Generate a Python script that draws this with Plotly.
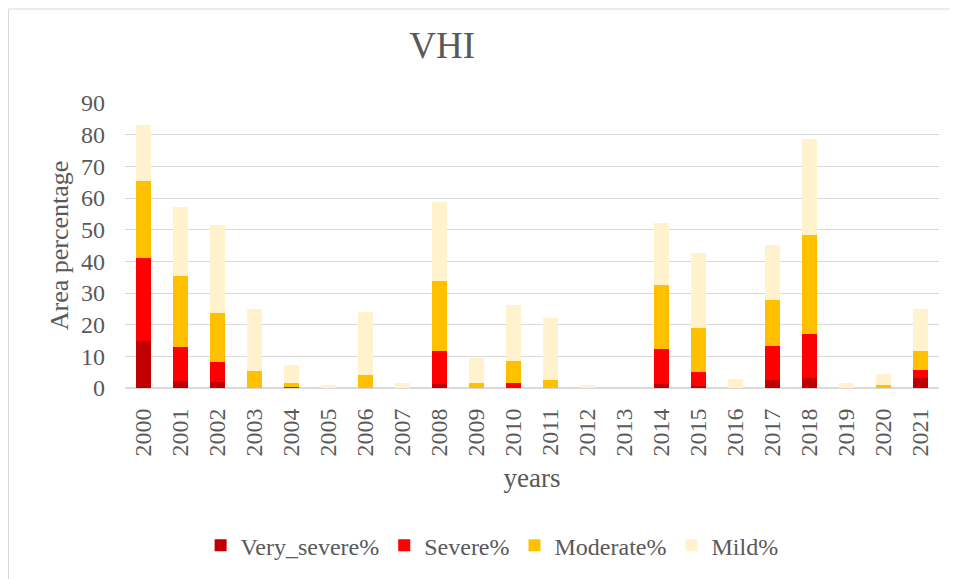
import plotly.graph_objects as go

years = [str(y) for y in range(2000, 2022)]
very_severe = [14.7, 2.3, 1.9, 0, 0, 0, 0, 0, 1.2, 0, 0, 0, 0, 0, 1.3, 0.5, 0, 2.6, 3.1, 0, 0, 3.2]
severe = [26.3, 10.7, 6.4, 0, 0.2, 0, 0, 0, 10.6, 0, 1.7, 0, 0, 0, 11.0, 4.4, 0, 10.8, 13.8, 0, 0, 2.4]
moderate = [24.3, 22.4, 15.4, 5.5, 1.5, 0, 4.0, 0, 22.1, 1.5, 6.7, 2.5, 0, 0, 20.1, 14.2, 0, 14.5, 31.5, 0, 0.9, 6.2]
mild = [17.9, 21.7, 27.7, 19.5, 5.6, 0.9, 20.1, 1.7, 24.8, 8.1, 17.9, 19.7, 0.9, 0, 19.6, 23.5, 2.7, 17.2, 30.1, 1.5, 3.6, 13.2]
y_ticks = [0, 10, 20, 30, 40, 50, 60, 70, 80, 90]

series = [
    ("Very_severe%", very_severe, "#C00000"),
    ("Severe%", severe, "#FF0000"),
    ("Moderate%", moderate, "#FFC000"),
    ("Mild%", mild, "#FFF2CC"),
]

fig = go.Figure()
for name, vals, col in series:
    fig.add_trace(go.Bar(x=years, y=vals, name=name, marker=dict(color=col, line=dict(width=0))))

font_family = "Liberation Serif"
gray = "#595959"

# page offset of 8px (body margin); plot area spans x 125..939, y 103..389.5 on the page
fig.update_layout(
    barmode="stack",
    bargap=0.6,
    width=950, height=571,
    margin=dict(l=117, r=19, t=95, b=189.5),
    paper_bgcolor="white", plot_bgcolor="white",
    font=dict(family=font_family, color=gray, size=24),
    title=dict(text="VHI", x=0.457, xanchor="center", y=0.935, yanchor="middle",
               font=dict(family=font_family, size=37, color=gray)),
    legend=dict(orientation="h", x=0.451, xanchor="center", y=-0.548, yanchor="middle",
                traceorder="normal", font=dict(family=font_family, size=24, color=gray),
                itemwidth=30),
    xaxis=dict(type="category", tickangle=-90, showgrid=False, ticks="",
               tickfont=dict(size=24, color=gray), ticklabelstandoff=10,
               title=dict(text="years", font=dict(size=27, color=gray), standoff=12),
               showline=True, linecolor="#d9d9d9", linewidth=1),
    yaxis=dict(range=[0, 90], tickvals=y_ticks, showgrid=True, gridcolor="#d9d9d9", gridwidth=1,
               zeroline=True, zerolinecolor="#d9d9d9", ticks="", ticklabelstandoff=19,
               tickfont=dict(size=24, color=gray),
               title=dict(text="Area percentage", font=dict(size=26, color=gray), standoff=4)),
    shapes=[dict(type="rect", xref="paper", yref="paper",
                 x0=(8.5 - 125) / 814, x1=(965 - 125) / 814,
                 y0=(389.5 - 590) / 286.5, y1=(389.5 - 8.5) / 286.5,
                 line=dict(color="#d9d9d9", width=1), fillcolor="rgba(0,0,0,0)", layer="below")],
)

fig.write_html("out.html")
